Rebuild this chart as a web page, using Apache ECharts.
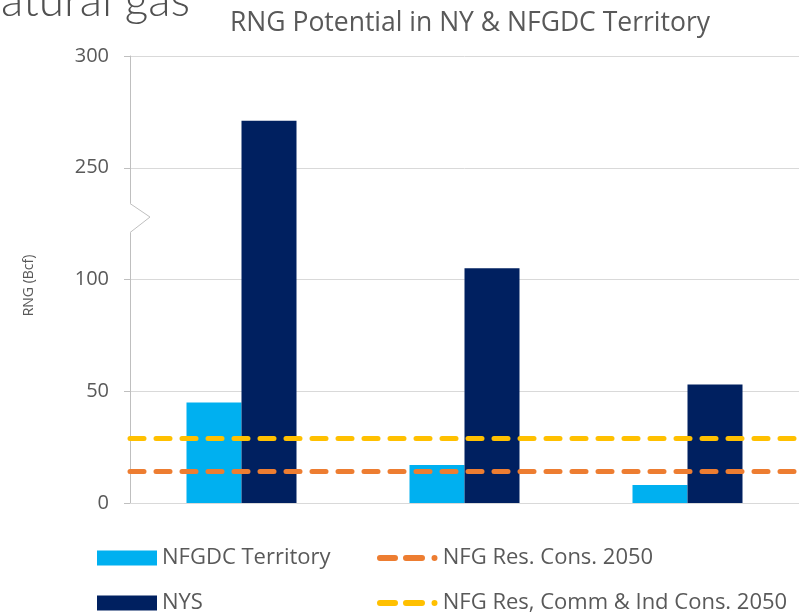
<!DOCTYPE html>
<html>
<head>
<meta charset="utf-8">
<script src="https://cdn.jsdelivr.net/npm/echarts@6/dist/echarts.min.js"></script>
<style>
  html, body { margin: 0; padding: 0; background: #fff; }
  #chart { width: 799px; height: 613px; }
</style>
</head>
<body>
<div id="chart"></div>
<script>
// categories have no labels in the picture
const categories = ['A', 'B', 'C'];
const nfgdcValues = [45, 17, 8];
const nysValues = [271, 105, 53];
const resCons2050 = 14;
const resCommIndCons2050 = 29;
const tickValues = [0, 50, 100, 250, 300];

// broken axis: 100..250 squeezed into one 50-step
const BREAK_SHIFT = 100;
function toAxis(v) { return v >= 200 ? v - BREAK_SHIFT : v; }
function fromAxis(v) { return v > 100 ? v + BREAK_SHIFT : v; }

const grey = '#595959';
const font = 'Open Sans';

const dashStyle = function (color) {
    return { color: color, width: 5, type: [14, 12], cap: 'round' };
};
// legend icon: dash, dash, dot
const dashIcon = 'path://M3,0h15a3,3 0 0 1 0,6h-15a3,3 0 0 1 0,-6z' +
    'M29,0h16a3,3 0 0 1 0,6h-16a3,3 0 0 1 0,-6z' +
    'M57.5,0a3,3 0 0 1 0,6a3,3 0 0 1 0,-6z';

let chart = echarts.init(document.getElementById('chart'));
let option = {
    animation: false,
    title: {
        text: 'RNG Potential in NY & NFGDC Territory',
        left: 465,
        textAlign: 'center',
        top: 5,
        textStyle: { color: grey, fontSize: 26.5, fontWeight: 'normal', fontFamily: font }
    },
    grid: { left: 130, right: -9, top: 56, bottom: 110, containLabel: false },
    xAxis: {
        type: 'category',
        data: categories,
        axisLine: { show: true, lineStyle: { color: '#D9D9D9' } },
        axisTick: { show: false },
        axisLabel: { show: false }
    },
    yAxis: {
        type: 'value',
        min: 0,
        max: toAxis(tickValues[4]),
        interval: 50,
        name: 'RNG (Bcf)',
        nameLocation: 'middle',
        nameGap: 94,
        nameTextStyle: { color: grey, fontSize: 14, fontFamily: font, padding: [0, 12, 0, 0] },
        axisLine: { show: true, lineStyle: { color: '#BFBFBF' } },
        axisTick: { show: true, length: 6, lineStyle: { color: '#BFBFBF' } },
        axisLabel: {
            color: grey, fontSize: 20, fontFamily: font, margin: 21,
            formatter: function (v) { return String(fromAxis(v)); }
        },
        splitLine: { show: true, lineStyle: { color: '#D9D9D9' } }
    },
    legend: [{
        orient: 'vertical',
        left: 97,
        top: 546,
        height: 90,
        padding: 0,
        itemWidth: 60,
        itemHeight: 15,
        itemGap: 21,
        icon: 'rect',
        textStyle: { color: grey, fontSize: 22, fontFamily: font, lineHeight: 24 },
        data: ['NFGDC Territory', 'NYS']
    }, {
        orient: 'vertical',
        left: 377,
        top: 546,
        height: 90,
        padding: 0,
        itemWidth: 61,
        itemHeight: 6,
        itemGap: 21,
        textStyle: { color: grey, fontSize: 22, fontFamily: font, lineHeight: 24 },
        data: [
            { name: 'NFG Res. Cons. 2050', icon: dashIcon },
            { name: 'NFG Res, Comm & Ind Cons. 2050', icon: dashIcon }
        ]
    }],
    series: [{
        name: 'NFGDC Territory',
        type: 'bar',
        barWidth: 55,
        barGap: '0%',
        itemStyle: { color: '#00B0F0' },
        data: nfgdcValues.map(toAxis)
    }, {
        name: 'NYS',
        type: 'bar',
        barWidth: 55,
        itemStyle: { color: '#002060' },
        data: nysValues.map(toAxis)
    }, {
        name: 'NFG Res. Cons. 2050',
        type: 'line',
        symbol: 'none',
        color: '#ED7D31',
        lineStyle: dashStyle('#ED7D31'),
        data: [],
        markLine: {
            silent: true,
            symbol: 'none',
            label: { show: false },
            lineStyle: dashStyle('#ED7D31'),
            data: [{ yAxis: toAxis(resCons2050) }]
        }
    }, {
        name: 'NFG Res, Comm & Ind Cons. 2050',
        type: 'line',
        symbol: 'none',
        color: '#FFC000',
        lineStyle: dashStyle('#FFC000'),
        data: [],
        markLine: {
            silent: true,
            symbol: 'none',
            label: { show: false },
            lineStyle: dashStyle('#FFC000'),
            data: [{ yAxis: toAxis(resCommIndCons2050) }]
        }
    }]
};
chart.setOption(option);

// axis break mark and the clipped heading text from the slide
const rect = chart.getModel().getComponent('grid', 0).coordinateSystem.getRect();
const yTop = chart.convertToPixel({ yAxisIndex: 0 }, 134);
const yBot = chart.convertToPixel({ yAxisIndex: 0 }, 121);
chart.setOption({
    graphic: [{
        type: 'rect',
        shape: { x: rect.x - 2, y: yTop, width: 4, height: yBot - yTop },
        style: { fill: '#fff' },
        z: 100
    }, {
        type: 'polyline',
        shape: { points: [[rect.x, yTop], [rect.x + 20, (yTop + yBot) / 2 - 1], [rect.x, yBot]] },
        style: { stroke: '#BFBFBF', lineWidth: 1, fill: null },
        z: 101
    }, {
        type: 'text',
        x: 190,
        y: 24,
        style: {
            text: 'natural gas',
            align: 'right',
            verticalAlign: 'bottom',
            fill: '#505050',
            fontSize: 46,
            fontWeight: 300,
            fontFamily: 'Lato'
        }
    }]
});
</script>
</body>
</html>
